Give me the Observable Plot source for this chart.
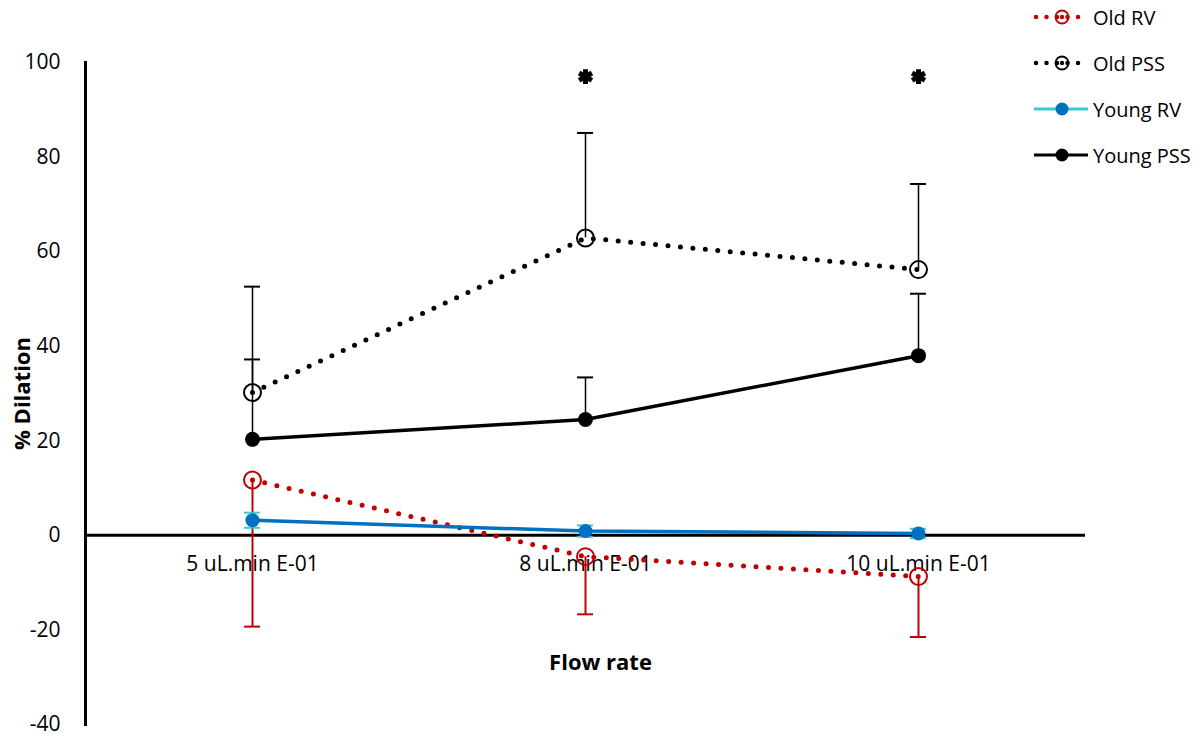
<!DOCTYPE html>
<html>
<head>
<meta charset="utf-8">
<script src="https://cdn.jsdelivr.net/npm/d3@7"></script>
<script src="https://cdn.jsdelivr.net/npm/@observablehq/plot@0.6"></script>
<style>
  html, body { margin: 0; padding: 0; background: #fff; }
  #wrap { position: relative; width: 1202px; height: 736px; font-family: "Open Sans", sans-serif; }
  #legend { position: absolute; left: 1033px; top: -6px; font-size: 20px; color: #000; }
  #legend .row { display: flex; align-items: center; height: 46px; white-space: nowrap; }
  #legend svg { width: 58px; height: 24px; margin-right: 2px; }
</style>
</head>
<body>
<div id="wrap"><div id="legend"></div></div>
<script>
// ---- data ----
const categories = ["5 uL.min E-01", "8 uL.min E-01", "10 uL.min E-01"];
const yTicks = [-40, -20, 0, 20, 40, 60, 80, 100];

const oldRV = [11.7, -4.5, -8.7];
const oldRVLow = [-19.3, -16.7, -21.5];

const oldPSS = [30.2, 62.9, 56.2];
const oldPSSHigh = [52.6, 85.1, 74.3];

const youngRV = [3.2, 0.9, 0.4];
const youngRVErr = [1.6, 1.2, 1.0];

const youngPSS = [20.3, 24.5, 38.0];
const youngPSSHigh = [37.2, 33.4, 51.1];

const sigCategories = ["8 uL.min E-01", "10 uL.min E-01"];
const sigValues = [97, 97];

const seriesNames = ["Old RV", "Old PSS", "Young RV", "Young PSS"];

// ---- tables ----
const rows = (vals, extra) => categories.map((c, i) => ({cat: c, v: vals[i], ...(extra ? extra(i) : {})}));
const dOldRV = rows(oldRV, i => ({lo: oldRVLow[i]}));
const dOldPSS = rows(oldPSS, i => ({hi: oldPSSHigh[i]}));
const dYoungRV = rows(youngRV, i => ({lo: youngRV[i] - youngRVErr[i], hi: youngRV[i] + youngRVErr[i]}));
const dYoungPSS = rows(youngPSS, i => ({hi: youngPSSHigh[i]}));
const dSig = sigCategories.map((c, i) => ({cat: c, v: sigValues[i]}));

const red = "#c00000", blue = "#0070c0", cyan = "#3cc8d2";
const dotted = {strokeWidth: 5, strokeDasharray: "0 12.5", strokeLinecap: "round"};
const cap = {insetLeft: -8, insetRight: -8, strokeWidth: 2};

const chart = Plot.plot({
  width: 1202,
  height: 736,
  marginLeft: 85,
  marginRight: 117,
  marginTop: 62,
  marginBottom: 12,
  style: {fontFamily: "Open Sans, sans-serif", fontSize: "21px", color: "#000", background: "#fff"},
  x: {type: "point", domain: categories, padding: 0.5, axis: null},
  y: {domain: [-40, 100], axis: null},
  marks: [
    Plot.axisY({ticks: yTicks, tickSize: 0, tickPadding: 25, label: null, fontSize: 21, tickFormat: d => String(d)}),
    Plot.frame({anchor: "left", strokeWidth: 3, stroke: "#000"}),
    Plot.ruleY([0], {strokeWidth: 3, stroke: "#000"}),
    Plot.text(categories, {x: d => d, y: () => 0, dy: 29, fontSize: 21, text: d => d}),
    Plot.text(["% Dilation"], {frameAnchor: "left", textAnchor: "middle", rotate: -90, dx: -63, fontWeight: "bold", fontSize: 22}),
    Plot.text(["Flow rate"], {frameAnchor: "bottom", lineAnchor: "middle", dy: -62, dx: 15, fontWeight: "bold", fontSize: 22}),

    // error bars
    Plot.ruleX(dOldRV, {x: "cat", y1: "v", y2: "lo", stroke: red, strokeWidth: 2}),
    Plot.ruleY(dOldRV, {x1: "cat", x2: "cat", y: "lo", stroke: red, ...cap}),
    Plot.ruleX(dOldPSS, {x: "cat", y1: "v", y2: "hi", stroke: "#000", strokeWidth: 1.5}),
    Plot.ruleY(dOldPSS, {x1: "cat", x2: "cat", y: "hi", stroke: "#000", ...cap}),
    Plot.ruleX(dYoungPSS, {x: "cat", y1: "v", y2: "hi", stroke: "#000", strokeWidth: 1.5}),
    Plot.ruleY(dYoungPSS, {x1: "cat", x2: "cat", y: "hi", stroke: "#000", ...cap}),
    Plot.ruleX(dYoungRV, {x: "cat", y1: "lo", y2: "hi", stroke: cyan, strokeWidth: 2}),
    Plot.ruleY(dYoungRV, {x1: "cat", x2: "cat", y: "lo", stroke: cyan, ...cap}),
    Plot.ruleY(dYoungRV, {x1: "cat", x2: "cat", y: "hi", stroke: cyan, ...cap}),

    // lines
    Plot.line(dOldRV, {x: "cat", y: "v", stroke: red, ...dotted}),
    Plot.line(dOldPSS, {x: "cat", y: "v", stroke: "#000", ...dotted}),
    Plot.line(dYoungRV, {x: "cat", y: "v", stroke: blue, strokeWidth: 3.5}),
    Plot.line(dYoungPSS, {x: "cat", y: "v", stroke: "#000", strokeWidth: 3.5}),

    // markers
    Plot.dot(dOldRV, {x: "cat", y: "v", r: 8.5, stroke: red, strokeWidth: 2, fill: "none"}),
    Plot.dot(dOldPSS, {x: "cat", y: "v", r: 8.5, stroke: "#000", strokeWidth: 2, fill: "none"}),
    Plot.dot(dYoungRV, {x: "cat", y: "v", r: 7, fill: blue}),
    Plot.dot(dYoungPSS, {x: "cat", y: "v", r: 7.5, fill: "#000"}),

    // significance
    Plot.dot(dSig, {x: "cat", y: "v", symbol: "asterisk", r: 7, stroke: "#000", strokeWidth: 5, fill: "#000"})
  ]
});
document.getElementById("wrap").prepend(chart);

// ---- legend ----
const legendSpec = [
  {name: seriesNames[0], stroke: red, dotted: true, marker: "open"},
  {name: seriesNames[1], stroke: "#000", dotted: true, marker: "open"},
  {name: seriesNames[2], stroke: cyan, dotted: false, marker: "fill", fill: blue},
  {name: seriesNames[3], stroke: "#000", dotted: false, marker: "fill", fill: "#000"}
];
const legend = document.getElementById("legend");
for (const s of legendSpec) {
  const row = document.createElement("div");
  row.className = "row";
  const line = s.dotted
    ? `<line x1="3" x2="55" y1="12" y2="12" stroke="${s.stroke}" stroke-width="4.5" stroke-dasharray="0 10.5" stroke-linecap="round"/>`
    : `<line x1="1" x2="55" y1="12" y2="12" stroke="${s.stroke}" stroke-width="3"/>`;
  const mk = s.marker === "open"
    ? `<circle cx="29" cy="12" r="6.5" fill="none" stroke="${s.stroke}" stroke-width="1.8"/><circle cx="29" cy="12" r="2.2" fill="${s.stroke}"/>`
    : `<circle cx="29" cy="12" r="6.5" fill="${s.fill}"/>`;
  row.innerHTML = `<svg viewBox="0 0 58 24">${line}${mk}</svg><span>${s.name}</span>`;
  legend.appendChild(row);
}
</script>
</body>
</html>
